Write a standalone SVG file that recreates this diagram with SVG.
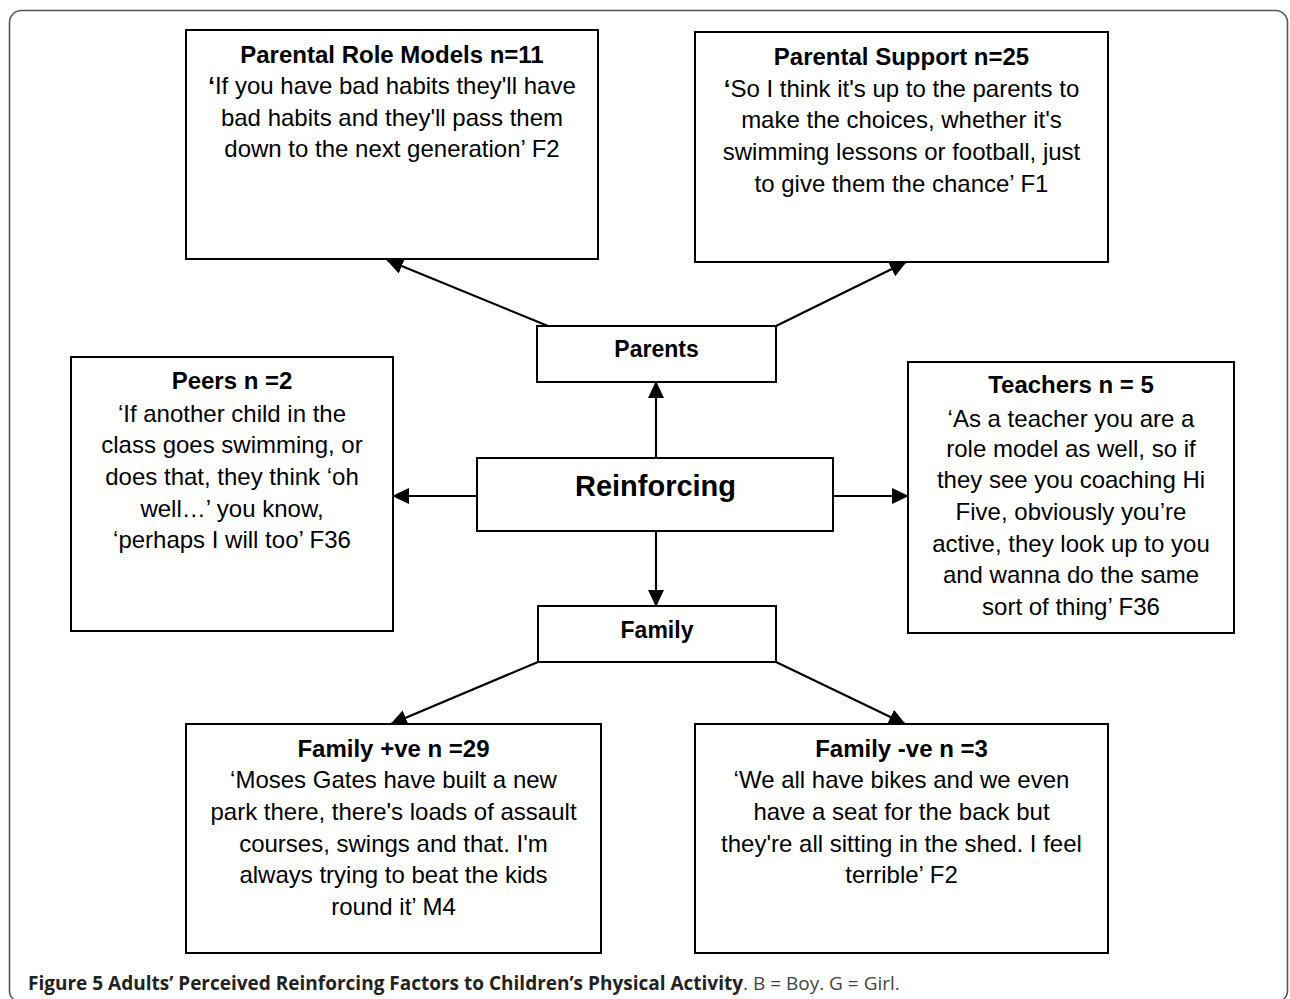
<svg xmlns="http://www.w3.org/2000/svg" width="1290" height="999" viewBox="0 0 1290 999">
<defs>
<style>
.box{fill:#fff;stroke:#000;stroke-width:2}
.t{font-family:"Liberation Sans",Arial,sans-serif;font-size:24px;fill:#000;text-anchor:middle}
.b{font-weight:bold}
.big{font-size:29px}
.sm{font-size:23px}
.con{stroke:#000;stroke-width:2.2;fill:none;marker-end:url(#ah)}
.cap{font-family:"Open Sans","Noto Sans",sans-serif;font-size:19px}
</style>
<marker id="ah" markerUnits="userSpaceOnUse" markerWidth="18" markerHeight="17" refX="16" refY="8" orient="auto">
<path d="M0,0 L17,8 L0,16 z" fill="#000"/>
</marker>
</defs>
<rect x="0" y="0" width="1290" height="999" fill="#fff"/>
<rect x="9.5" y="10.5" width="1278" height="992" rx="12" fill="none" stroke="#555" stroke-width="1.6"/>

<g id="connectors">
<line class="con" x1="548" y1="326" x2="387" y2="260"/>
<line class="con" x1="776" y1="326" x2="906" y2="262"/>
<line class="con" x1="656" y1="458" x2="656" y2="382"/>
<line class="con" x1="656" y1="531" x2="656" y2="606"/>
<line class="con" x1="477" y1="496" x2="393" y2="496"/>
<line class="con" x1="833" y1="496" x2="908" y2="496"/>
<line class="con" x1="538" y1="662" x2="391" y2="724"/>
<line class="con" x1="776" y1="662" x2="905" y2="724"/>
</g>

<g id="parental-role-models">
<rect class="box" x="186" y="30" width="412" height="229"/>
<text class="t" x="392" y="63"><tspan class="b">Parental Role Models n=11</tspan><tspan x="392" y="94"><tspan class="b">‘</tspan>If you have bad habits they'll have</tspan><tspan x="392" y="126">bad habits and they'll pass them</tspan><tspan x="392" y="157">down to the next generation’ F2</tspan></text>
</g>

<g id="parental-support">
<rect class="box" x="695" y="32" width="413" height="230"/>
<text class="t" x="901.5" y="65"><tspan class="b">Parental Support n=25</tspan><tspan x="901.5" y="97"><tspan class="b">‘</tspan>So I think it's up to the parents to</tspan><tspan x="901.5" y="128">make the choices, whether it's</tspan><tspan x="901.5" y="160">swimming lessons or football, just</tspan><tspan x="901.5" y="192">to give them the chance’ F1</tspan></text>
</g>

<g id="parents">
<rect class="box" x="537" y="326" width="239" height="56"/>
<text class="t b sm" x="656.5" y="357">Parents</text>
</g>

<g id="reinforcing">
<rect class="box" x="477" y="458" width="356" height="73"/>
<text class="t b big" x="655.5" y="496">Reinforcing</text>
</g>

<g id="peers">
<rect class="box" x="71" y="357" width="322" height="274"/>
<text class="t" x="232" y="389"><tspan class="b">Peers n =2</tspan><tspan x="232" y="422">‘If another child in the</tspan><tspan x="232" y="453">class goes swimming, or</tspan><tspan x="232" y="485">does that, they think ‘oh</tspan><tspan x="232" y="517">well…’ you know,</tspan><tspan x="232" y="548">‘perhaps I will too’ F36</tspan></text>
</g>

<g id="teachers">
<rect class="box" x="908" y="362" width="326" height="271"/>
<text class="t" x="1071" y="393"><tspan class="b">Teachers n = 5</tspan><tspan x="1071" y="427">‘As a teacher you are a</tspan><tspan x="1071" y="457">role model as well, so if</tspan><tspan x="1071" y="488">they see you coaching Hi</tspan><tspan x="1071" y="520">Five, obviously you’re</tspan><tspan x="1071" y="552">active, they look up to you</tspan><tspan x="1071" y="583">and wanna do the same</tspan><tspan x="1071" y="615">sort of thing’ F36</tspan></text>
</g>

<g id="family">
<rect class="box" x="538" y="606" width="238" height="56"/>
<text class="t b sm" x="657" y="638">Family</text>
</g>

<g id="family-positive">
<rect class="box" x="186" y="724" width="415" height="229"/>
<text class="t" x="393.5" y="757"><tspan class="b">Family +ve n =29</tspan><tspan x="393.5" y="788">‘Moses Gates have built a new</tspan><tspan x="393.5" y="820">park there, there's loads of assault</tspan><tspan x="393.5" y="852">courses, swings and that. I'm</tspan><tspan x="393.5" y="883">always trying to beat the kids</tspan><tspan x="393.5" y="915">round it’ M4</tspan></text>
</g>

<g id="family-negative">
<rect class="box" x="695" y="724" width="413" height="229"/>
<text class="t" x="901.5" y="757"><tspan class="b">Family -ve n =3</tspan><tspan x="901.5" y="788">‘We all have bikes and we even</tspan><tspan x="901.5" y="820">have a seat for the back but</tspan><tspan x="901.5" y="852">they're all sitting in the shed. I feel</tspan><tspan x="901.5" y="883">terrible’ F2</tspan></text>
</g>

<text class="cap" x="28" y="990"><tspan font-weight="bold" fill="#222">Figure 5 Adults’ Perceived Reinforcing Factors to Children’s Physical Activity</tspan><tspan fill="#444">. B = Boy. G = Girl.</tspan></text>
</svg>
